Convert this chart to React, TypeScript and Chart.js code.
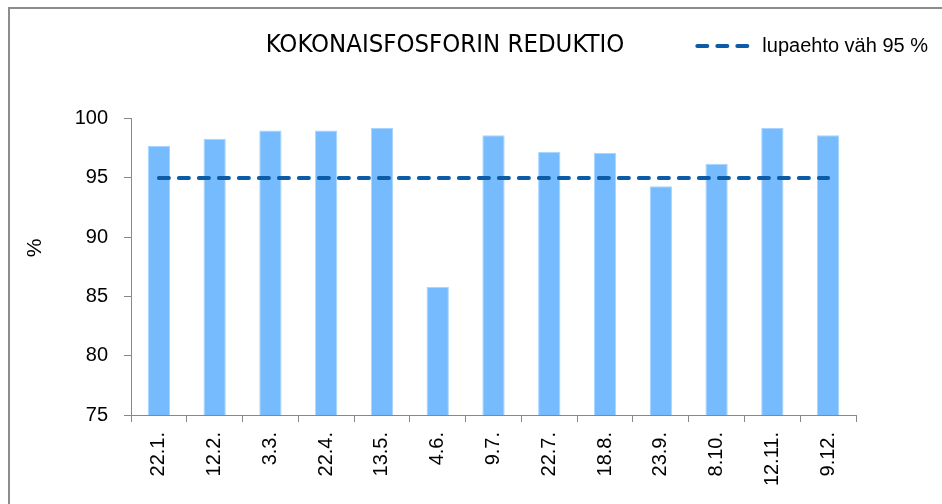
import React, { useEffect, useRef } from 'react';
import { Chart, registerables } from 'chart.js';

Chart.register(...registerables);

const categories = ['22.1.', '12.2.', '3.3.', '22.4.', '13.5.', '4.6.', '9.7.', '22.7.', '18.8.', '23.9.', '8.10.', '12.11.', '9.12.'];
const reductionValues = [97.7, 98.3, 99.0, 99.0, 99.2, 85.8, 98.6, 97.2, 97.1, 94.3, 96.2, 99.2, 98.6];
const limitValues = [95, 95, 95, 95, 95, 95, 95, 95, 95, 95, 95, 95, 95];
const yMin = 75;
const yMax = 100;
const yStep = 5;
const titleText = 'KOKONAISFOSFORIN REDUKTIO';
const reductionLabel = 'Kokonaisfosforin reduktio';
const limitLabel = 'lupaehto väh 95 %';
const yAxisLabel = '%';

const W = 942;
const H = 504;
const FONT = "'Liberation Sans', Arial, sans-serif";
const NARROW = "'Liberation Sans Narrow', 'Arial Narrow', 'DejaVu Sans Condensed', sans-serif";
const LINE_COLOR = '#0B5BA7';

const framePlugin = {
  id: 'framePlugin',
  beforeDraw(chart: any) {
    const ctx = chart.ctx;
    ctx.save();
    ctx.strokeStyle = '#8c8c8c';
    ctx.lineWidth = 2;
    ctx.beginPath();
    ctx.moveTo(9, H);
    ctx.lineTo(9, 8);
    ctx.lineTo(W, 8);
    ctx.stroke();
    ctx.restore();
    const t = chart.titleBlock;
    if (t) {
      t.left = 0;
      t.right = 890;
    }
    const l = chart.legend;
    if (l) {
      const h = l.bottom - l.top;
      l.top = 26;
      l.bottom = 26 + h;
      l.left = 0;
      l.right = 938;
    }
  },
  afterDraw(chart: any) {
    const ctx = chart.ctx;
    ctx.save();
    ctx.translate(35, 248);
    ctx.rotate(-Math.PI / 2);
    ctx.font = `21px ${FONT}`;
    ctx.fillStyle = '#000';
    ctx.textAlign = 'center';
    ctx.textBaseline = 'middle';
    ctx.fillText(yAxisLabel, 0, 0);
    ctx.restore();
  },
};

export default function App() {
  const ref = useRef<HTMLCanvasElement>(null);
  useEffect(() => {
    if (!ref.current) return;
    const chart = new Chart(ref.current, {
      type: 'bar',
      data: {
        labels: categories,
        datasets: [
          {
            type: 'bar',
            label: reductionLabel,
            data: reductionValues,
            backgroundColor: '#75BBFE',
            borderColor: '#A8D4FF',
            borderWidth: 1,
            barPercentage: 0.4,
            categoryPercentage: 1.0,
            order: 1,
          },
          {
            type: 'line',
            label: limitLabel,
            data: limitValues,
            borderColor: LINE_COLOR,
            backgroundColor: LINE_COLOR,
            borderWidth: 4,
            borderDash: [10, 10],
            borderCapStyle: 'round',
            pointRadius: 0,
            pointStyle: 'line',
            fill: false,
            order: 0,
          } as any,
        ],
      },
      options: {
        responsive: false,
        animation: false,
        devicePixelRatio: 1,
        layout: { padding: { top: 0, left: 0, right: 86, bottom: 0 } },
        plugins: {
          title: {
            display: true,
            text: titleText,
            color: '#000',
            font: { family: NARROW, size: 25.5, weight: 'normal' },
            padding: { top: 30, bottom: 18 },
          },
          legend: {
            display: true,
            position: 'top',
            align: 'end',
            labels: {
              usePointStyle: true,
              pointStyleWidth: 55,
              color: '#000',
              font: { family: FONT, size: 20 },
              padding: 10,
              generateLabels: (c: any) => [
                {
                  text: c.data.datasets[1].label,
                  datasetIndex: 1,
                  fillStyle: LINE_COLOR,
                  strokeStyle: LINE_COLOR,
                  lineWidth: 4,
                  lineDash: [10, 10],
                  lineDashOffset: 0,
                  lineCap: 'round',
                  pointStyle: 'line',
                  hidden: false,
                  fontColor: '#000',
                },
              ],
            },
          },
          tooltip: { enabled: false },
        },
        scales: {
          x: {
            grid: {
              offset: true,
              drawOnChartArea: false,
              drawTicks: true,
              tickLength: 7,
              color: '#888',
            },
            border: { display: true, color: '#888', width: 1 },
            ticks: {
              minRotation: 90,
              maxRotation: 90,
              autoSkip: false,
              padding: 10,
              color: '#000',
              font: { family: FONT, size: 20 },
            },
            afterFit: (scale: any) => {
              scale.height = 89;
            },
          },
          y: {
            min: yMin,
            max: yMax,
            grid: {
              drawOnChartArea: false,
              drawTicks: true,
              tickLength: 7,
              color: '#888',
            },
            border: { display: true, color: '#888', width: 1 },
            ticks: {
              stepSize: yStep,
              padding: 16,
              color: '#000',
              font: { family: FONT, size: 20 },
            },
            afterFit: (scale: any) => {
              scale.width = 131;
            },
          },
        },
      },
      plugins: [framePlugin],
    });
    return () => chart.destroy();
  }, []);
  return (
    <div style={{ position: 'absolute', left: 0, top: 0, width: W, height: H, background: '#fff' }}>
      <canvas ref={ref} width={W} height={H} />
    </div>
  );
}
